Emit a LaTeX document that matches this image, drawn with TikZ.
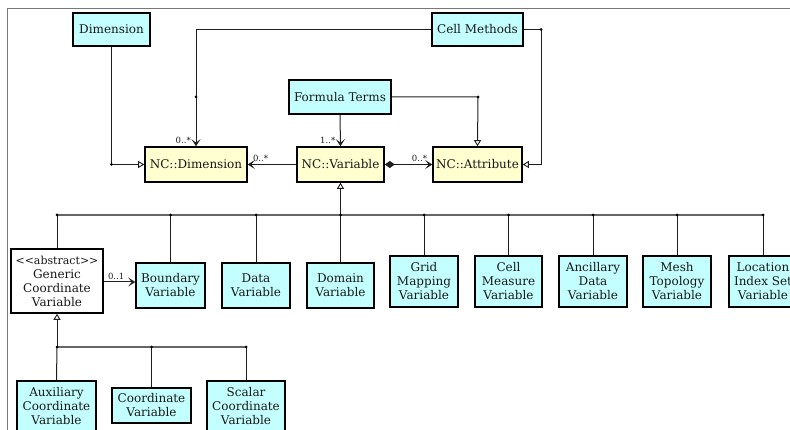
\documentclass[tikz,border=0pt]{standalone}
\usepackage{fontspec}
\setmainfont{DejaVu Serif}
\usetikzlibrary{arrows.meta,shadows}
\definecolor{cyanfill}{RGB}{196,255,255}
\definecolor{yellowfill}{RGB}{255,255,208}
\definecolor{linec}{RGB}{30,30,30}
\definecolor{framec}{RGB}{120,120,120}
\begin{document}
\begin{tikzpicture}[x=1pt,y=-1pt,
  box/.style={draw=black, line width=1.6pt, inner sep=0pt, align=center,
    font=\fontsize{12}{14}\selectfont, text=black!90,
    drop shadow={shadow xshift=1pt, shadow yshift=-1pt, fill=black!30, opacity=1}},
  cbox/.style={box, fill=cyanfill},
  ybox/.style={box, fill=yellowfill},
  wbox/.style={box, fill=white},
  conn/.style={draw=linec, line width=1pt},
  bus/.style={draw=black!60, line width=1.4pt},
  gen/.style={conn, -{Triangle[open, length=6pt, width=7pt, line width=0.9pt]}},
  assoc/.style={conn, -{Stealth[length=7pt, width=9pt, inset=3.5pt]}},
  comp/.style={conn, {Diamond[length=10pt, width=7pt]}-{Stealth[length=7pt, width=9pt, inset=3.5pt]}},
  mult/.style={font=\fontsize{8.5}{9}\selectfont, text=black!90, inner sep=0pt},
  dot/.style={circle, fill=black, inner sep=0pt, minimum size=3pt}]
\useasboundingbox (0,0) rectangle (790,430);
\clip (0,0) rectangle (790,430);
% frame
\draw[framec, line width=1pt] (7,430) -- (7,9) -- (790,9);

% top nodes
\node[cbox, minimum width=77pt, minimum height=33pt] (dim) at (111.5,29.5) {Dimension};
\node[cbox, minimum width=91pt, minimum height=33pt] (cm) at (477.5,29.5) {Cell Methods};
\node[cbox, minimum width=102pt, minimum height=34pt] (ft) at (340,97) {Formula Terms};
\node[ybox, minimum width=102pt, minimum height=35pt] (ncd) at (196,164.5) {NC::Dimension};
\node[ybox, minimum width=87pt, minimum height=35pt] (ncv) at (340.5,164.5) {NC::Variable};
\node[ybox, minimum width=89pt, minimum height=35pt] (nca) at (477.5,164.5) {NC::Attribute};

% middle row
\node[wbox, minimum width=92pt, minimum height=64pt] (gcv) at (57,281) {{\fontsize{11}{14}\selectfont <\kern0pt<abstract>\kern0pt>}\\Generic\\Coordinate\\Variable};
\node[cbox, minimum width=69pt, minimum height=45pt] (bv) at (170.5,285.5) {Boundary\\Variable};
\node[cbox, minimum width=68pt, minimum height=45pt] (dv) at (256,285.5) {Data\\Variable};
\node[cbox, minimum width=67pt, minimum height=45pt] (domv) at (340.5,285.5) {Domain\\Variable};
\node[cbox, minimum width=68pt, minimum height=51pt] (gmv) at (424,281.5) {Grid\\Mapping\\Variable};
\node[cbox, minimum width=67pt, minimum height=51pt] (cmv) at (508.5,281.5) {Cell\\Measure\\Variable};
\node[cbox, minimum width=68pt, minimum height=51pt] (adv) at (593,281.5) {Ancillary\\Data\\Variable};
\node[cbox, minimum width=68pt, minimum height=51pt] (mtv) at (677,281.5) {Mesh\\Topology\\Variable};
\node[cbox, minimum width=68pt, minimum height=51pt] (lisv) at (763,281.5) {Location\\Index Set\\Variable};

% bottom row
\node[cbox, minimum width=79pt, minimum height=51pt] (acv) at (56.5,406.5) {Auxiliary\\Coordinate\\Variable};
\node[cbox, minimum width=79pt, minimum height=35pt] (cv) at (151.5,405.5) {Coordinate\\Variable};
\node[cbox, minimum width=78pt, minimum height=51pt] (scv) at (246,406.5) {Scalar\\Coordinate\\Variable};

% junction coordinates
\coordinate (dimj) at (111.5,164.5);
\coordinate (cmL) at (196,29.5);
\coordinate (cmLd) at (196,97);
\coordinate (cmR) at (541,29.5);
\coordinate (cmRd) at (541,164.5);
\coordinate (ftR) at (478,97);

% top connectors
\draw[gen] (dim.south) -- (dimj) -- (ncd.west);
\node[dot] at (dimj) {};
\draw[assoc] (cm.west) -- (cmL) -- (ncd.north);
\node[dot] at (cmLd) {};
\node[mult, anchor=south east] at ([xshift=-5pt,yshift=2pt]ncd.north) {0..*};
\draw[gen] (cm.east) -- (cmR) -- (cmRd) -- (nca.east);
\node[dot] at (cmR) {};
\draw[assoc] (ft.south) -- (ncv.north);
\node[mult, anchor=south east] at ([xshift=-5pt,yshift=2pt]ncv.north) {1..*};
\draw[gen] (ft.east) -- (ftR) -- (nca.north);
\node[dot] at (ftR) {};
\draw[assoc] (ncv.west) -- (ncd.east);
\node[mult, anchor=south west] at ([xshift=5pt,yshift=3pt]ncd.east) {0..*};
\draw[comp] (ncv.east) -- (nca.west);
\node[mult, anchor=south east] at ([xshift=-5pt,yshift=3pt]nca.west) {0..*};

% upper inheritance bus
\coordinate (b1) at (57,215);
\coordinate (b2) at (170.5,215);
\coordinate (b3) at (256,215);
\coordinate (b4) at (340.5,215);
\coordinate (b5) at (424,215);
\coordinate (b6) at (508.5,215);
\coordinate (b7) at (593,215);
\coordinate (b8) at (677,215);
\coordinate (b9) at (763,215);
\draw[bus] (b1) -- (b9);
\draw[gen] (b4) -- (ncv.south);
\foreach \n/\b in {gcv/b1, bv/b2, dv/b3, domv/b4, gmv/b5, cmv/b6, adv/b7, mtv/b8, lisv/b9}{
  \draw[conn] (\n.north) -- (\b);
  \node[dot] at (\b) {};
}
\draw[assoc] (gcv.east |- 0,282) -- (bv.west |- 0,282);
\node[mult, anchor=south west] at ([xshift=4pt,yshift=2pt]gcv.east |- 0,282) {0..1};

% lower inheritance bus
\coordinate (c1) at (57,347);
\coordinate (c2) at (151.5,347);
\coordinate (c3) at (246,347);
\draw[bus] (c1) -- (c3);
\draw[gen] (c1) -- (gcv.south);
\foreach \n/\b in {acv/c1, cv/c2, scv/c3}{
  \draw[conn] (\n.north) -- (\b);
  \node[dot] at (\b) {};
}
\end{tikzpicture}
\end{document}
